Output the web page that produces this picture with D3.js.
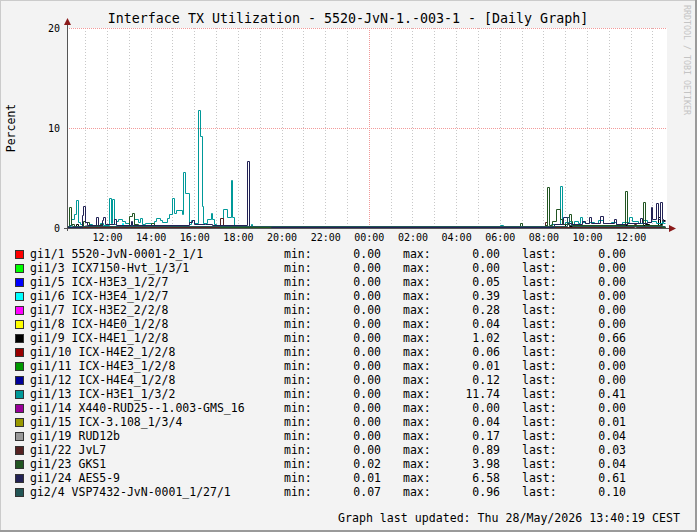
<!DOCTYPE html>
<html>
	<head>
		<meta charset="utf-8">
		<title>Interface TX Utilization</title>
		<script src="https://d3js.org/d3.v7.min.js"></script>
		<style>
			body { margin: 0; background: #f3f3f3; }
			svg { display: block; }
			svg text { font-family: "DejaVu Sans Mono", monospace; }
		</style>
	</head>
	<body>
		<script>

		// legend rows, in drawing order
		var names = ["gi1/1 5520-JvN-0001-2_1/1", "gi1/3 ICX7150-Hvt_1/3/1", "gi1/5 ICX-H3E3_1/2/7",
			"gi1/6 ICX-H3E4_1/2/7", "gi1/7 ICX-H3E2_2/2/8", "gi1/8 ICX-H4E0_1/2/8", "gi1/9 ICX-H4E1_1/2/8",
			"gi1/10 ICX-H4E2_1/2/8", "gi1/11 ICX-H4E3_1/2/8", "gi1/12 ICX-H4E4_1/2/8", "gi1/13 ICX-H3E1_1/3/2",
			"gi1/14 X440-RUD25--1.003-GMS_16", "gi1/15 ICX-3.108_1/3/4", "gi1/19 RUD12b", "gi1/22 JvL7",
			"gi1/23 GKS1", "gi1/24 AES5-9", "gi2/4 VSP7432-JvN-0001_1/27/1"];
		var colors = ["#ff0000", "#00ff00", "#0000ff", "#00ffff", "#ff00ff", "#ffff00", "#000000",
			"#990000", "#009900", "#000099", "#009999", "#990099", "#999900", "#999999",
			"#552222", "#225522", "#222255", "#225555"];
		var minVals = ["0.00", "0.00", "0.00", "0.00", "0.00", "0.00", "0.00", "0.00", "0.00",
			"0.00", "0.00", "0.00", "0.00", "0.00", "0.00", "0.02", "0.01", "0.07"];
		var maxVals = ["0.00", "0.00", "0.05", "0.39", "0.28", "0.04", "1.02", "0.06", "0.01",
			"0.12", "11.74", "0.00", "0.04", "0.17", "0.89", "3.98", "6.58", "0.96"];
		var lastVals = ["0.00", "0.00", "0.00", "0.00", "0.00", "0.00", "0.66", "0.00", "0.00",
			"0.00", "0.41", "0.00", "0.01", "0.04", "0.03", "0.04", "0.61", "0.10"];

		var yTicks = [0, 10, 20];

		// step data: [day hh:mm, value] - value holds until the next entry
		var s_gi1_1 = [["27 10:10", 0]];
		var s_gi1_3 = [["27 10:10", 0]];
		var s_gi1_5 = [["27 10:10", 0], ["27 14:20", 0.05], ["27 14:25", 0], ["28 09:40", 0.05], ["28 09:45", 0]];
		var s_gi1_6 = [["27 10:10", 0], ["27 12:40", 0.39], ["27 12:45", 0.05], ["27 13:00", 0], ["28 09:20", 0.2], ["28 09:25", 0]];
		var s_gi1_7 = [["27 10:10", 0], ["28 09:35", 0.28], ["28 09:40", 0]];
		var s_gi1_8 = [["27 10:10", 0], ["27 15:40", 0.04], ["27 15:45", 0]];
		var s_gi1_9 = [["27 10:10", 0.05], ["27 10:35", 0.3], ["27 10:40", 0.1], ["27 19:30", 0], ["28 08:00", 0.1],
			["28 09:00", 0.3], ["28 09:10", 0.1], ["28 11:00", 0.2], ["28 12:40", 0.3], ["28 12:50", 0.15],
			["28 13:15", 1.02], ["28 13:20", 0.3], ["28 13:25", 0.66]];
		var s_gi1_10 = [["27 10:10", 0], ["27 16:30", 0.06], ["27 16:35", 0]];
		var s_gi1_11 = [["27 10:10", 0]];
		var s_gi1_12 = [["27 10:10", 0], ["27 11:20", 0.12], ["27 11:25", 0], ["28 10:15", 0.1], ["28 10:20", 0]];
		var s_gi1_13 = [["27 10:10", 0.1], ["27 10:20", 0.8], ["27 10:30", 1.3], ["27 10:35", 2.7], ["27 10:40", 0.5],
			["27 10:45", 0.3], ["27 10:55", 0.1], ["27 11:10", 0.3], ["27 11:20", 0.2], ["27 11:40", 0.4],
			["27 11:50", 0.2], ["27 12:05", 2.95], ["27 12:10", 0.4], ["27 12:15", 2.8], ["27 12:20", 0.3],
			["27 12:25", 0.6], ["27 12:30", 0.8], ["27 12:40", 0.6], ["27 12:50", 0.4], ["27 13:00", 0.2],
			["27 13:15", 0.8], ["27 13:25", 0.5], ["27 13:30", 0.87], ["27 13:35", 0.3], ["27 13:45", 0.4],
			["27 14:00", 0.2], ["27 14:10", 0.6], ["27 14:15", 0.9], ["27 14:25", 0.7], ["27 14:30", 0.5],
			["27 14:45", 0.9], ["27 14:50", 1.3], ["27 15:00", 2.9], ["27 15:05", 1.45], ["27 15:10", 1.7],
			["27 15:25", 1.3], ["27 15:30", 5.5], ["27 15:35", 3.45], ["27 15:45", 0.3], ["27 15:50", 0.7],
			["27 16:00", 0.4], ["27 16:10", 11.74], ["27 16:15", 9.1], ["27 16:20", 2.1], ["27 16:25", 0.4],
			["27 16:35", 0.8], ["27 16:45", 1.35], ["27 16:50", 0.8], ["27 16:55", 0.3], ["27 17:00", 0.15],
			["27 17:20", 1.85], ["27 17:30", 1.0], ["27 17:40", 4.7], ["27 17:45", 1.0], ["27 17:50", 0.2],
			["27 18:10", 0.15], ["27 18:35", 0.3], ["27 18:40", 0.05], ["27 19:15", 0.02], ["28 06:00", 0.17],
			["28 06:10", 0.02], ["28 08:00", 0.1], ["28 08:20", 0.3], ["28 08:45", 4.07], ["28 08:50", 0.3],
			["28 09:00", 0.5], ["28 09:10", 0.6], ["28 09:15", 0.35], ["28 09:25", 0.63], ["28 09:35", 0.4],
			["28 09:40", 1.0], ["28 09:45", 0.5], ["28 09:55", 0.4], ["28 10:05", 0.55], ["28 10:20", 0.4],
			["28 10:30", 0.7], ["28 10:45", 0.4], ["28 11:05", 0.5], ["28 11:20", 0.3], ["28 11:35", 0.5],
			["28 11:55", 1.0], ["28 12:05", 0.6], ["28 12:20", 0.4], ["28 12:30", 0.7], ["28 12:45", 0.5],
			["28 12:55", 0.65], ["28 13:10", 0.4], ["28 13:25", 0.6], ["28 13:30", 0.41]];
		var s_gi1_14 = [["27 10:10", 0]];
		var s_gi1_15 = [["27 10:10", 0], ["27 13:20", 0.04], ["27 13:25", 0], ["28 13:30", 0.01]];
		var s_gi1_19 = [["27 10:10", 0.02], ["27 11:00", 0.17], ["27 11:05", 0.03], ["28 13:30", 0.04]];
		var s_gi1_22 = [["27 10:10", 0.05], ["27 17:10", 0.89], ["27 17:20", 0.05], ["28 08:05", 0.53],
			["28 08:10", 0.05], ["28 12:10", 0.3], ["28 12:15", 0.05], ["28 13:30", 0.03]];
		var s_gi1_23 = [["27 10:10", 0.1], ["27 10:15", 1.97], ["27 10:20", 0.3], ["27 10:30", 0.1], ["27 10:55", 0.6],
			["27 11:00", 0.5], ["27 11:10", 0.2], ["27 11:40", 0.3], ["27 11:45", 0.1], ["27 13:00", 1.13],
			["27 13:10", 1.37], ["27 13:15", 0.3], ["27 13:25", 0.1], ["27 14:00", 0.4], ["27 14:10", 0.1],
			["27 17:05", 0.1], ["27 17:10", 0.05], ["28 06:55", 0.37], ["28 07:00", 0.05], ["28 08:05", 0.2],
			["28 08:10", 3.98], ["28 08:15", 0.2], ["28 08:25", 0.63], ["28 08:35", 1.8], ["28 08:45", 0.8],
			["28 08:50", 0.3], ["28 09:10", 1.3], ["28 09:15", 0.6], ["28 09:20", 0.2], ["28 11:45", 3.63],
			["28 11:50", 0.2], ["28 12:35", 2.53], ["28 12:40", 0.2], ["28 13:25", 0.04]];
		var s_gi1_24 = [["27 10:10", 0.05], ["27 10:50", 1.23], ["27 10:55", 2.07], ["27 11:00", 0.5], ["27 11:05", 0.2],
			["27 11:30", 1.0], ["27 11:35", 0.2], ["27 11:45", 0.7], ["27 11:50", 1.0], ["27 11:55", 0.3],
			["27 12:20", 0.8], ["27 12:25", 0.2], ["27 13:05", 0.6], ["27 13:10", 0.2], ["27 15:45", 0.5],
			["27 15:55", 0.7], ["27 16:00", 0.3], ["27 16:30", 0.3], ["27 16:50", 0.2], ["27 18:25", 6.58],
			["27 18:30", 0.1], ["27 19:30", 0.02], ["28 08:30", 0.3], ["28 08:55", 0.97], ["28 09:05", 0.4],
			["28 09:15", 0.3], ["28 09:45", 0.6], ["28 09:55", 0.4], ["28 10:05", 1.03], ["28 10:10", 0.4],
			["28 10:35", 1.1], ["28 10:45", 0.4], ["28 11:15", 0.8], ["28 11:20", 0.3], ["28 11:50", 0.4],
			["28 12:25", 0.9], ["28 12:30", 0.4], ["28 12:45", 0.5], ["28 12:55", 1.97], ["28 13:00", 0.8],
			["28 13:10", 2.37], ["28 13:15", 0.8], ["28 13:20", 2.47], ["28 13:25", 0.8], ["28 13:30", 0.61]];
		var s_gi2_4 = [["27 10:10", 0.1], ["27 10:15", 0.2], ["27 10:25", 0.1], ["28 09:05", 0.96], ["28 09:10", 0.2],
			["28 09:20", 0.1]];

		var seriesData = [s_gi1_1, s_gi1_3, s_gi1_5, s_gi1_6, s_gi1_7, s_gi1_8, s_gi1_9, s_gi1_10, s_gi1_11,
			s_gi1_12, s_gi1_13, s_gi1_14, s_gi1_15, s_gi1_19, s_gi1_22, s_gi1_23, s_gi1_24, s_gi2_4];

		var parseT = d3.timeParse("%Y-%m-%d %H:%M");
		function tt(s){ return parseT("2026-05-" + s); }

		var tStart = tt("27 10:10"),
		    tEnd = tt("28 13:40"),
		    tData = tt("28 13:35");

		var W = 697, H = 532;
		var plot = {left: 67, right: 667, top: 28, bottom: 228};

		var x = d3.scaleTime().domain([tStart, tEnd]).range([plot.left, plot.right]);
		var y = d3.scaleLinear().domain([0, 20]).range([plot.bottom, plot.top]);

		var svg = d3.select("body").append("svg")
			.attr("width", W)
			.attr("height", H);

		// background + 3d frame
		svg.append("rect").attr("width", W).attr("height", H).attr("fill", "#f3f3f3");
		svg.append("path").attr("d", "M0,0H697V1H1V532H0Z").attr("fill", "#cbcbcb");
		svg.append("path").attr("d", "M697,0V532H0V530H695V0Z").attr("fill", "#9a9a9a");

		svg.append("rect")
			.attr("x", plot.left).attr("y", plot.top)
			.attr("width", plot.right - plot.left).attr("height", plot.bottom - plot.top)
			.attr("fill", "#ffffff");

		// minor grid (hourly)
		var hours = d3.timeHour.every(1).range(tStart, tEnd);
		svg.append("g").selectAll("line")
			.data(hours.filter(function(d){ return d.getHours() != 0; }))
			.enter().append("line")
			.attr("x1", function(d){ return Math.round(x(d)) + 0.5; })
			.attr("x2", function(d){ return Math.round(x(d)) + 0.5; })
			.attr("y1", plot.top)
			.attr("y2", plot.bottom)
			.attr("stroke", "#c8c8c8")
			.attr("stroke-dasharray", "1,2");

		// major grid
		svg.append("g").selectAll("line")
			.data(yTicks.filter(function(d){ return d > 0; }))
			.enter().append("line")
			.attr("x1", plot.left)
			.attr("x2", plot.right)
			.attr("y1", function(d){ return Math.round(y(d)) + 0.5; })
			.attr("y2", function(d){ return Math.round(y(d)) + 0.5; })
			.attr("stroke", "#f29a9a")
			.attr("stroke-dasharray", "1,1");
		svg.append("g").selectAll("line")
			.data(hours.filter(function(d){ return d.getHours() == 0; }))
			.enter().append("line")
			.attr("x1", function(d){ return Math.round(x(d)) + 0.5; })
			.attr("x2", function(d){ return Math.round(x(d)) + 0.5; })
			.attr("y1", plot.top)
			.attr("y2", plot.bottom)
			.attr("stroke", "#f29a9a")
			.attr("stroke-dasharray", "1,1");

		// series lines
		var line = d3.line()
			.x(function(d){ return Math.round(x(d[0])) + 0.5; })
			.y(function(d){ return Math.round(y(d[1])) - 0.5; })
			.curve(d3.curveStepAfter);

		svg.append("g").selectAll("path")
			.data(seriesData)
			.enter().append("path")
			.attr("d", function(s){
				var pts = s.map(function(p){ return [tt(p[0]), p[1]]; });
				pts.push([tData, s[s.length - 1][1]]);
				return line(pts);
			})
			.attr("fill", "none")
			.attr("stroke", function(d, i){ return colors[i]; })
			.attr("stroke-width", 1);

		// axes lines + arrows
		svg.append("line")
			.attr("x1", plot.left - 3).attr("x2", plot.right + 4)
			.attr("y1", plot.bottom + 0.5).attr("y2", plot.bottom + 0.5)
			.attr("stroke", "#555");
		svg.append("line")
			.attr("x1", plot.left + 0.5).attr("x2", plot.left + 0.5)
			.attr("y1", plot.bottom + 3).attr("y2", plot.top - 5)
			.attr("stroke", "#555");
		svg.append("path")
			.attr("d", "M" + (plot.right + 2) + "," + (plot.bottom - 3) + "L" + (plot.right + 9) + "," + (plot.bottom + 0.5) + "L" + (plot.right + 2) + "," + (plot.bottom + 4) + "Z")
			.attr("fill", "#8b1a1a");
		svg.append("path")
			.attr("d", "M" + (plot.left - 3) + "," + (plot.top - 3) + "L" + (plot.left + 0.5) + "," + (plot.top - 10) + "L" + (plot.left + 4) + "," + (plot.top - 3) + "Z")
			.attr("fill", "#8b1a1a");

		// x axis labels
		var xAxis = svg.append("g")
			.attr("transform", "translate(0," + plot.bottom + ")")
			.call(d3.axisBottom(x)
				.ticks(d3.timeHour.every(2))
				.tickFormat(d3.timeFormat("%H:%M"))
				.tickSize(0)
				.tickPadding(6));
		xAxis.select(".domain").remove();
		xAxis.selectAll("text")
			.attr("font-family", "DejaVu Sans Mono")
			.attr("font-size", "10px")
			.attr("fill", "#000");

		// y axis labels
		var yAxis = svg.append("g")
			.attr("transform", "translate(" + plot.left + ",0)")
			.call(d3.axisLeft(y).tickValues(yTicks).tickSize(0).tickPadding(7));
		yAxis.select(".domain").remove();
		yAxis.selectAll("text")
			.attr("font-family", "DejaVu Sans Mono")
			.attr("font-size", "10px")
			.attr("fill", "#000");

		// title
		svg.append("text")
			.attr("x", 348)
			.attr("y", 23)
			.attr("text-anchor", "middle")
			.attr("font-size", "13.3px")
			.text("Interface TX Utilization - 5520-JvN-1.-003-1 - [Daily Graph]");

		svg.append("text")
			.attr("transform", "translate(15,128) rotate(-90)")
			.attr("text-anchor", "middle")
			.attr("font-size", "11.5px")
			.text("Percent");

		svg.append("text")
			.attr("transform", "translate(684,5) rotate(90)")
			.attr("font-size", "8.3px")
			.attr("fill", "#c4c4c4")
			.text("RRDTOOL / TOBI OETIKER");

		// legend
		var legend = svg.append("g").selectAll("g")
			.data(names)
			.enter().append("g")
			.attr("transform", function(d, i){ return "translate(0," + (254 + i * 14) + ")"; });

		legend.append("rect")
			.attr("x", 15.5).attr("y", -3.5)
			.attr("width", 8).attr("height", 8)
			.attr("fill", function(d, i){ return colors[i]; })
			.attr("stroke", "#333");
		legend.append("text").attr("x", 30).attr("y", 4).text(function(d){ return d; });
		legend.append("text").attr("x", 284).attr("y", 4).text("min:");
		legend.append("text").attr("x", 381).attr("y", 4).attr("text-anchor", "end")
			.text(function(d, i){ return minVals[i]; });
		legend.append("text").attr("x", 403).attr("y", 4).text("max:");
		legend.append("text").attr("x", 500).attr("y", 4).attr("text-anchor", "end")
			.text(function(d, i){ return maxVals[i]; });
		legend.append("text").attr("x", 522).attr("y", 4).text("last:");
		legend.append("text").attr("x", 626).attr("y", 4).attr("text-anchor", "end")
			.text(function(d, i){ return lastVals[i]; });
		legend.selectAll("text").attr("font-size", "11.5px");

		svg.append("text")
			.attr("x", 680)
			.attr("y", 522)
			.attr("text-anchor", "end")
			.attr("font-size", "11.6px")
			.text("Graph last updated: Thu 28/May/2026 13:40:19 CEST");

		</script>
	</body>
</html>
